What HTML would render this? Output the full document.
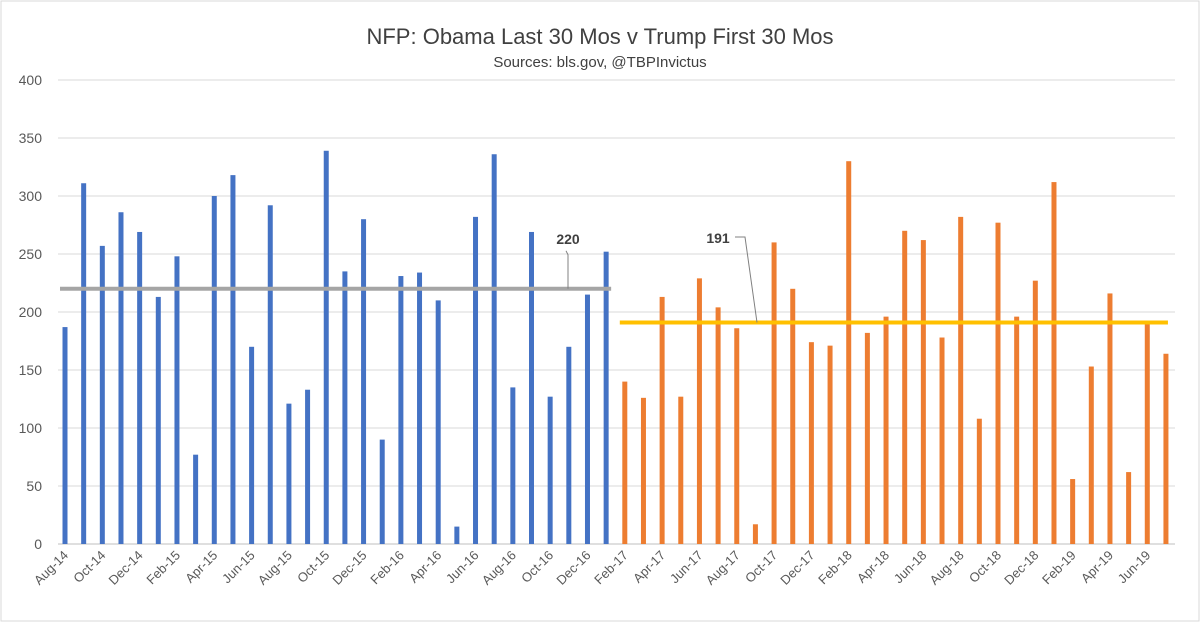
<!DOCTYPE html>
<html><head><meta charset="utf-8"><style>
body{margin:0;background:#fff;font-family:"Liberation Sans",sans-serif;}
svg text{font-family:"Liberation Sans",sans-serif;}
</style></head><body>
<svg id="chart" width="1200" height="622" viewBox="0 0 1200 622">
<rect x="1" y="1" width="1198" height="620" fill="#fff" stroke="#d9d9d9"/>
<text x="600" y="44" text-anchor="middle" font-size="22" fill="#404040">NFP: Obama Last 30 Mos v Trump First 30 Mos</text>
<text x="600" y="67" text-anchor="middle" font-size="15" fill="#404040">Sources: bls.gov, @TBPInvictus</text>
<g id="grid"></g><g id="bars"></g><g id="avg"></g><g id="xl"></g>
</svg>
<script>
const months=["Aug-14","Sep-14","Oct-14","Nov-14","Dec-14","Jan-15","Feb-15","Mar-15","Apr-15","May-15","Jun-15","Jul-15","Aug-15","Sep-15","Oct-15","Nov-15","Dec-15","Jan-16","Feb-16","Mar-16","Apr-16","May-16","Jun-16","Jul-16","Aug-16","Sep-16","Oct-16","Nov-16","Dec-16","Jan-17","Feb-17","Mar-17","Apr-17","May-17","Jun-17","Jul-17","Aug-17","Sep-17","Oct-17","Nov-17","Dec-17","Jan-18","Feb-18","Mar-18","Apr-18","May-18","Jun-18","Jul-18","Aug-18","Sep-18","Oct-18","Nov-18","Dec-18","Jan-19","Feb-19","Mar-19","Apr-19","May-19","Jun-19","Jul-19"];
const obama=[187,311,257,286,269,213,248,77,300,318,170,292,121,133,339,235,280,90,231,234,210,15,282,336,135,269,127,170,215,252];
const trump=[140,126,213,127,229,204,186,17,260,220,174,171,330,182,196,270,262,178,282,108,277,196,227,312,56,153,216,62,190,164];
const obamaAvg=220, trumpAvg=191;
const yTicks=[0,50,100,150,200,250,300,350,400];
const NS="http://www.w3.org/2000/svg";
const y0=544,y1=80,left=58,right=1175;
const y=v=>y0-(v/400)*(y0-y1);
const x=i=>65+i*18.66;
function mk(tag,at,par){const e=document.createElementNS(NS,tag);for(const k in at)e.setAttribute(k,at[k]);document.getElementById(par).appendChild(e);return e;}
yTicks.forEach(t=>{
 const l=mk("line",{x1:left,x2:right,y1:y(t),y2:y(t),stroke:t===0?"#bfbfbf":"#d9d9d9","stroke-width":1},"grid");
 
 
 const tx=mk("text",{x:42,y:y(t)+5,"text-anchor":"end","font-size":14,fill:"#595959"},"grid");
 tx.textContent=t;
 
 
});
const all=obama.concat(trump);
all.forEach((v,i)=>{
 const r=mk("rect",{x:x(i)-2.5,y:y(v),width:5,height:y0-y(v),fill:i<obama.length?"#4472c4":"#ed7d31"},"bars");
 
 
});
months.forEach((m,i)=>{
 if(i%2)return;
 const t=mk("text",{x:x(i)+4,y:556,"text-anchor":"end","font-size":13,fill:"#595959",transform:`rotate(-45 ${x(i)+4} 556)`},"xl");
 t.textContent=m;
 
 
});
const oa=mk("line",{x1:x(0)-5,x2:x(obama.length-1)+5,y1:y(obamaAvg),y2:y(obamaAvg),stroke:"#a5a5a5","stroke-width":4},"avg");


const ta=mk("line",{x1:x(obama.length)-5,x2:x(all.length-1)+2,y1:y(trumpAvg),y2:y(trumpAvg),stroke:"#ffc000","stroke-width":4},"avg");


const ol=mk("polyline",{points:`568,${y(obamaAvg)} 568,${y(obamaAvg)-34} 566,${y(obamaAvg)-38}`,fill:"none",stroke:"#808080","stroke-width":1},"avg");


const ot=mk("text",{x:568,y:y(obamaAvg)-45,"text-anchor":"middle","font-size":14,"font-weight":"bold",fill:"#404040"},"avg");
ot.textContent=obamaAvg;


const tl=mk("polyline",{points:`735,237 745,237 757,${y(trumpAvg)}`,fill:"none",stroke:"#808080","stroke-width":1},"avg");


const tt=mk("text",{x:718,y:243,"text-anchor":"middle","font-size":14,"font-weight":"bold",fill:"#404040"},"avg");
tt.textContent=trumpAvg;


</script>
</body></html>
